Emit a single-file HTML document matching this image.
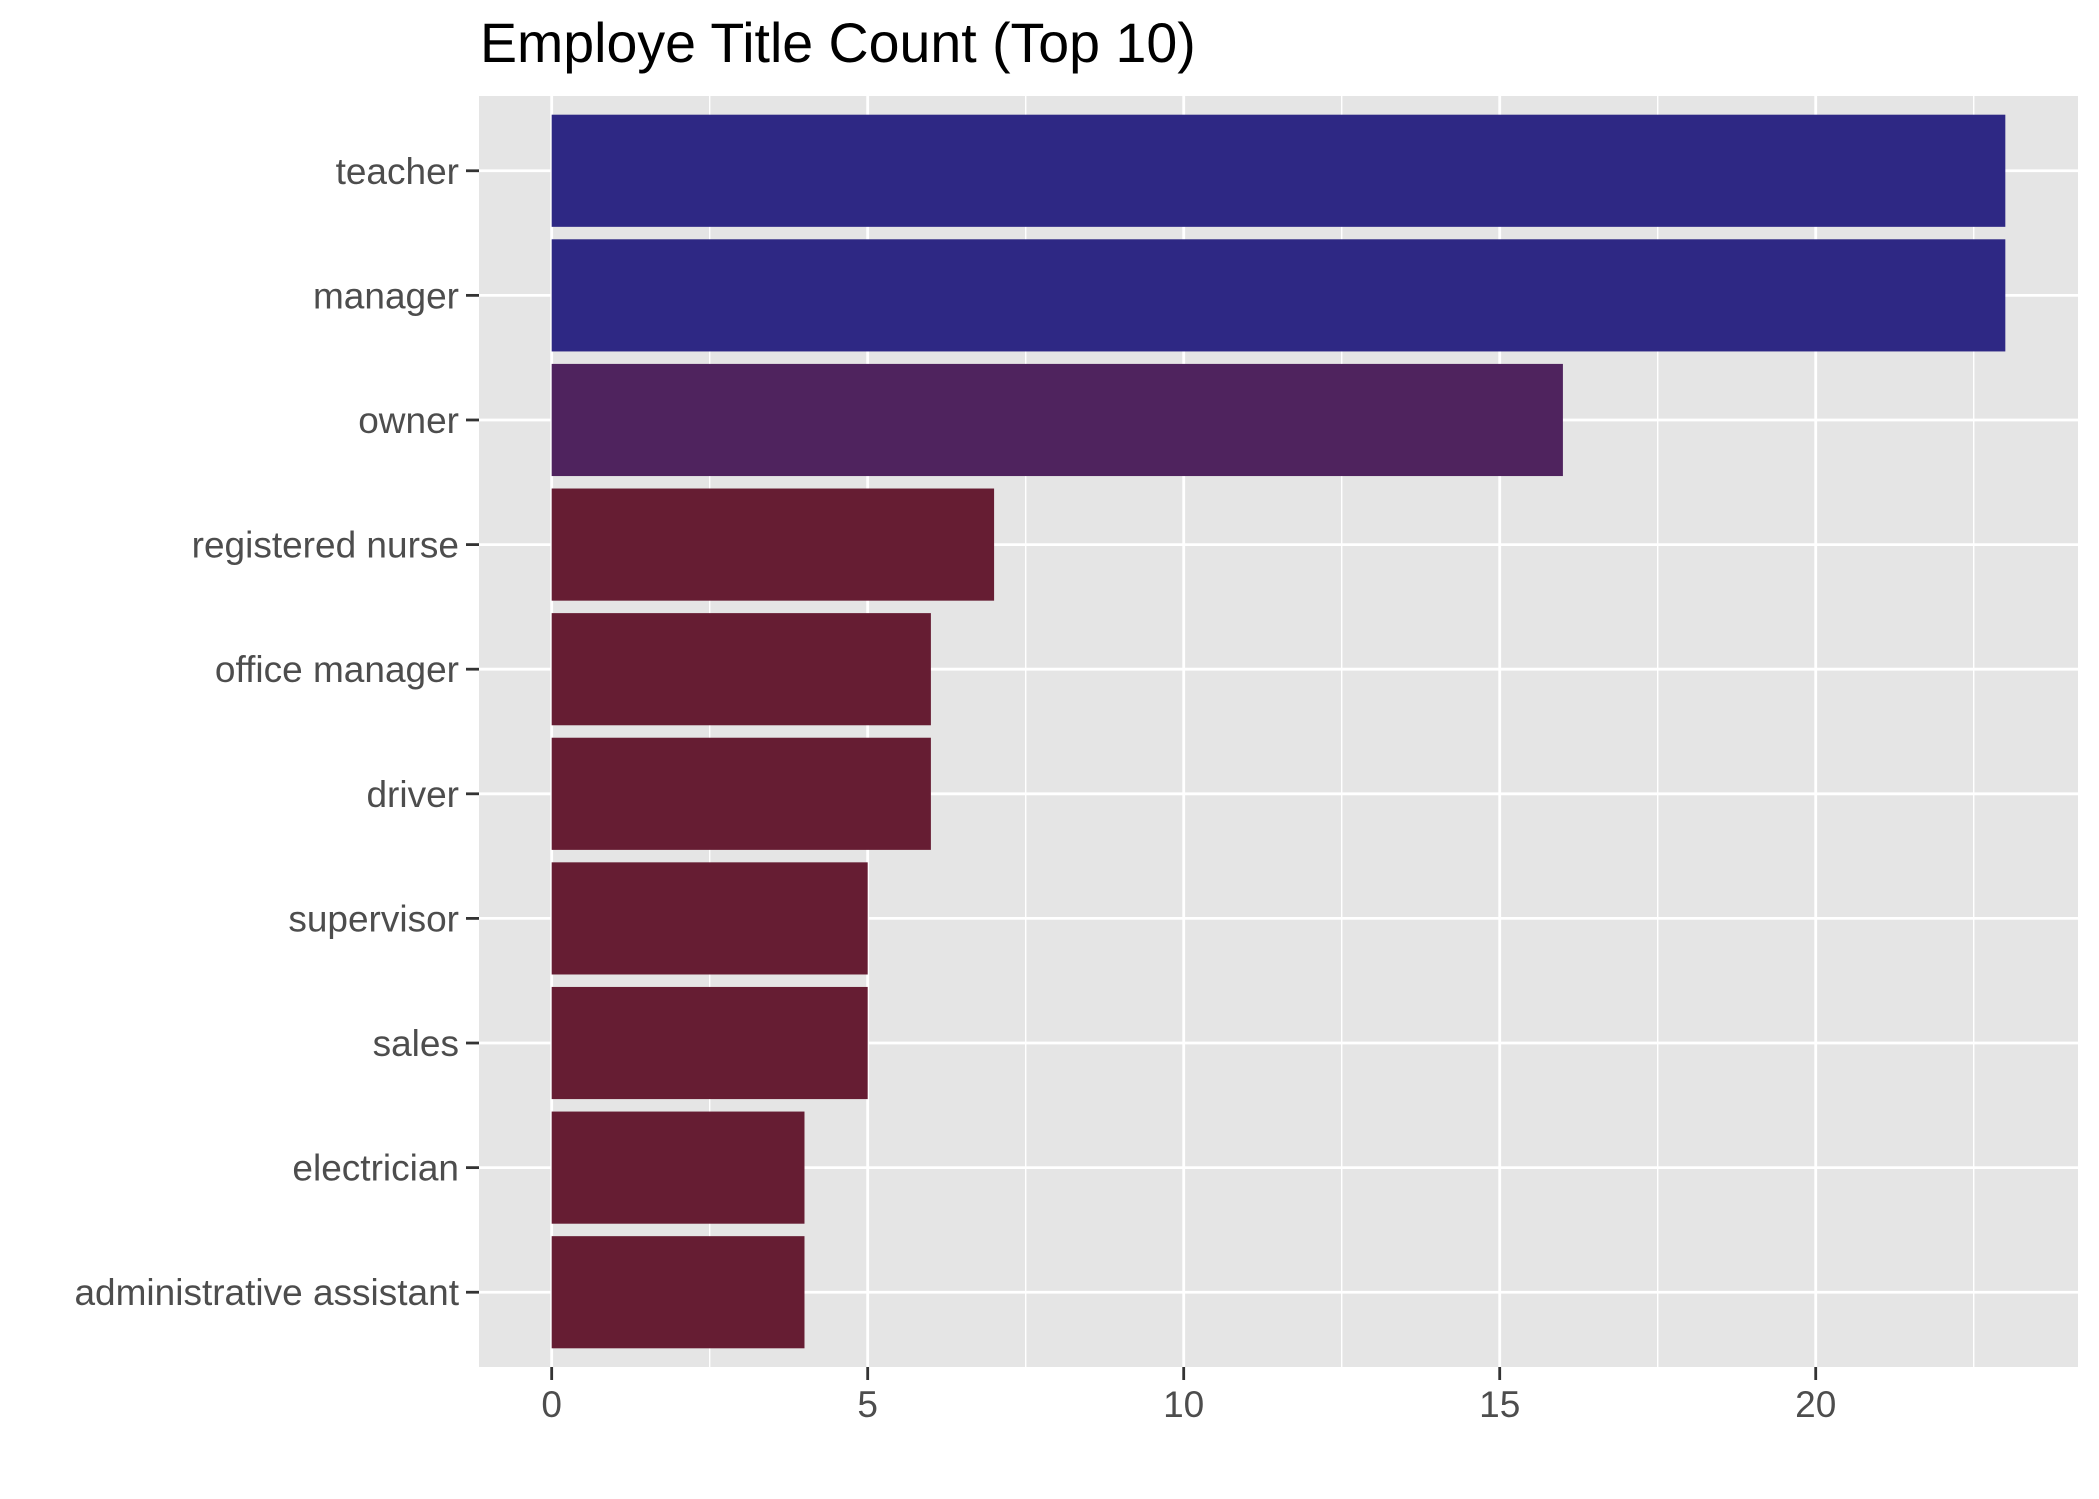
<!DOCTYPE html>
<html><head><meta charset="utf-8"><style>
body{margin:0;background:#fff;}
svg{display:block;font-family:"Liberation Sans",Arial,sans-serif;}
</style></head><body>
<svg id="chart" width="2099" height="1499" xmlns="http://www.w3.org/2000/svg">
<text x="480" y="62" font-size="55.5" fill="#000">Employe Title Count (Top 10)</text>
<rect x="479" y="96" width="1599" height="1271" fill="#e5e5e5"/>
<g id="grid"></g><g id="bars"></g><g id="axes"></g>
</svg>
<script>
const categories = ["teacher","manager","owner","registered nurse","office manager","driver","supervisor","sales","electrician","administrative assistant"];
const counts = [23,23,16,7,6,6,5,5,4,4];
const barColors = ["#2e2884","#2e2884","#4f235e","#661d33","#661d33","#661d33","#661d33","#661d33","#661d33","#661d33"];
const xTicks = [0,5,10,15,20];
const xMinor = [2.5,7.5,12.5,17.5,22.5];

const NS="http://www.w3.org/2000/svg";
const L=479,R=2078,T=96,B=1367;
const xMin=-1.15,xMax=24.15;
const x=v=>L+(v-xMin)/(xMax-xMin)*(R-L);
const n=categories.length;
const band=(B-T)/(n+0.2);
const yc=i=>T+band*0.6+band*i;
function mk(tag,attrs,parent){const e=document.createElementNS(NS,tag);for(const k in attrs)e.setAttribute(k,attrs[k]);document.getElementById(parent).appendChild(e);return e;}
xMinor.forEach(v=>{
  const e=mk('line',{x1:x(v),x2:x(v),y1:T,y2:B,stroke:'#fff','stroke-width':1.4},'grid');
  
  
});
xTicks.forEach(v=>{
  const e=mk('line',{x1:x(v),x2:x(v),y1:T,y2:B,stroke:'#fff','stroke-width':2.8},'grid');
  
  
  const t=mk('line',{x1:x(v),x2:x(v),y1:B,y2:B+13,stroke:'#333','stroke-width':2.8},'axes');
  
  
  const l=mk('text',{x:x(v),y:B+50,'font-size':37,fill:'#4d4d4d','text-anchor':'middle'},'axes');
  l.textContent=v;
  
  
});
categories.forEach((c,i)=>{
  const g=mk('line',{x1:L,x2:R,y1:yc(i),y2:yc(i),stroke:'#fff','stroke-width':2.8},'grid');
  
  
  const b=mk('rect',{x:x(0),y:yc(i)-band*0.45,width:x(counts[i])-x(0),height:band*0.9,fill:barColors[i]},'bars');
  
  
  const t=mk('line',{x1:L-13,x2:L,y1:yc(i),y2:yc(i),stroke:'#333','stroke-width':2.8},'axes');
  
  
  const l=mk('text',{x:L-20,y:yc(i)+13,'font-size':37,fill:'#4d4d4d','text-anchor':'end'},'axes');
  l.textContent=c;
  
  
});
</script>
</body></html>
